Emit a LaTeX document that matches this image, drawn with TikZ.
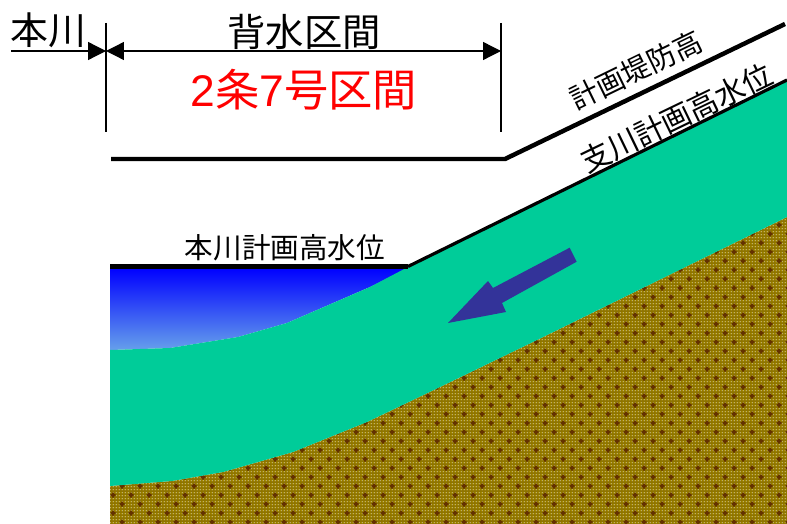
\documentclass[tikz,border=0pt]{standalone}
\usepackage{fontspec}
\setmainfont{Noto Sans CJK JP}
\newfontfamily\latinf{Liberation Sans}
\usetikzlibrary{arrows.meta,patterns}
\definecolor{teal1}{RGB}{0,204,153}
\definecolor{soil}{RGB}{142,116,0}
\definecolor{soilmark}{RGB}{100,50,0}
\definecolor{soildot}{RGB}{215,185,0}
\definecolor{flowblue}{RGB}{51,51,153}
\definecolor{waterbot}{RGB}{102,160,235}
\pgfdeclarepatterninherentlycolored{soiltex}{\pgfpointorigin}{\pgfpoint{3bp}{3bp}}{\pgfpoint{3bp}{3bp}}{%
  \pgfsetfillcolor{soildot}
  \pgfpathrectangle{\pgfpoint{1bp}{1bp}}{\pgfpoint{1bp}{1bp}}
  \pgfusepath{fill}
}
\tikzset{
  levee/.style={line width=4.5pt,line join=miter},
  wl/.style={line width=3.2pt},
  dim/.style={line width=1.3pt},
  dimtip/.style={-{Triangle[length=18pt,width=18pt]}},
  lab/.style={inner sep=0pt,text=black},
}
\begin{document}
\begin{tikzpicture}[x=1bp,y=-1bp]
\useasboundingbox (0,0) rectangle (787,524);
% soil
\def\soilpath{(110,486) -- (172,481) -- (223,472) -- (293,452) -- (367,422) -- (440,387) -- (537,340) -- (787,217) -- (787,524) -- (110,524) -- cycle}
\fill[soil] \soilpath;
\fill[pattern=soiltex] \soilpath;
\begin{scope}
\clip \soilpath;
\fill[soilmark]
  \foreach \r in {0,...,34}{\foreach \c in {0,...,37}{
    \pgfextra{\pgfmathsetmacro{\px}{113+18*\c+9*(1-mod(\r,2))}\pgfmathsetmacro{\py}{522-9*\r}}
    (\px-2.5,\py-1) rectangle (\px+2.5,\py+1) (\px-1,\py-2.5) rectangle (\px+1,\py+2.5)
  }};
\end{scope}
% water
\begin{scope}
\clip (110,268) -- (408,268) -- (370,287) -- (287,323) -- (238,337) -- (170,348) -- (110,350) -- cycle;
\shade[top color=blue,bottom color=waterbot] (110,268) rectangle (408,350);
\end{scope}
% flow
\fill[teal1] (110,350) -- (170,348) -- (238,337) -- (287,323) -- (370,287) -- (408,267) -- (787,81) -- (787,217) -- (537,340) -- (440,387) -- (367,422) -- (293,452) -- (223,472) -- (172,481) -- (110,486) -- cycle;
\fill[flowblue] (569.7,247.7) -- (576.7,261.7) -- (502,303) -- (506,312) -- (448,323) -- (488,281) -- (493,288) -- cycle;
% lines
\coordinate (leveeA) at (111,159);
\coordinate (leveeB) at (505,159);
\coordinate (leveeC) at (785,24);
\draw[levee] (leveeA) -- (leveeB) -- (leveeC);
\coordinate (hwA) at (110,266.5);
\coordinate (hwB) at (408,266.5);
\coordinate (hwC) at (787,80);
\draw[levee] (hwA) -- (hwB);
\draw[wl] (hwB) -- (hwC);
% dimension
\coordinate (vAt) at (106,23);
\coordinate (vAb) at (106,132);
\coordinate (vBt) at (501,23);
\coordinate (vBb) at (501,132);
\coordinate (dimL) at (11,51);
\coordinate (dimM) at (106,51);
\coordinate (dimR) at (501,51);
\draw[dim] (vAt) -- (vAb);
\draw[dim] (vBt) -- (vBb);
\draw[dim,dimtip] (dimL) -- (dimM);
\draw[dim,{Triangle[length=18pt,width=18pt]}-{Triangle[length=18pt,width=18pt]}] (dimM) -- (dimR);
% labels
\node[lab,font=\fontsize{38}{38}\selectfont] (honsen) at (48,30) {本川};
\node[lab,font=\fontsize{38.5}{38.5}\selectfont] (haisui) at (304,32) {背水区間};
\node[lab,text=red,font=\fontsize{44.5}{44.5}\selectfont] (jou) at (304,90) {{\latinf 2}条{\latinf 7}号区間};
\node[lab,font=\fontsize{28.7}{28.7}\selectfont] (hw) at (285,248) {本川計画高水位};
\node[lab,rotate=26,font=\fontsize{28.5}{28.5}\selectfont] (teibo) at (636,70) {計画堤防高};
\node[lab,rotate=25.8,font=\fontsize{30}{30}\selectfont] (shisen) at (676.5,118) {支川計画高水位};
\end{tikzpicture}
\end{document}
